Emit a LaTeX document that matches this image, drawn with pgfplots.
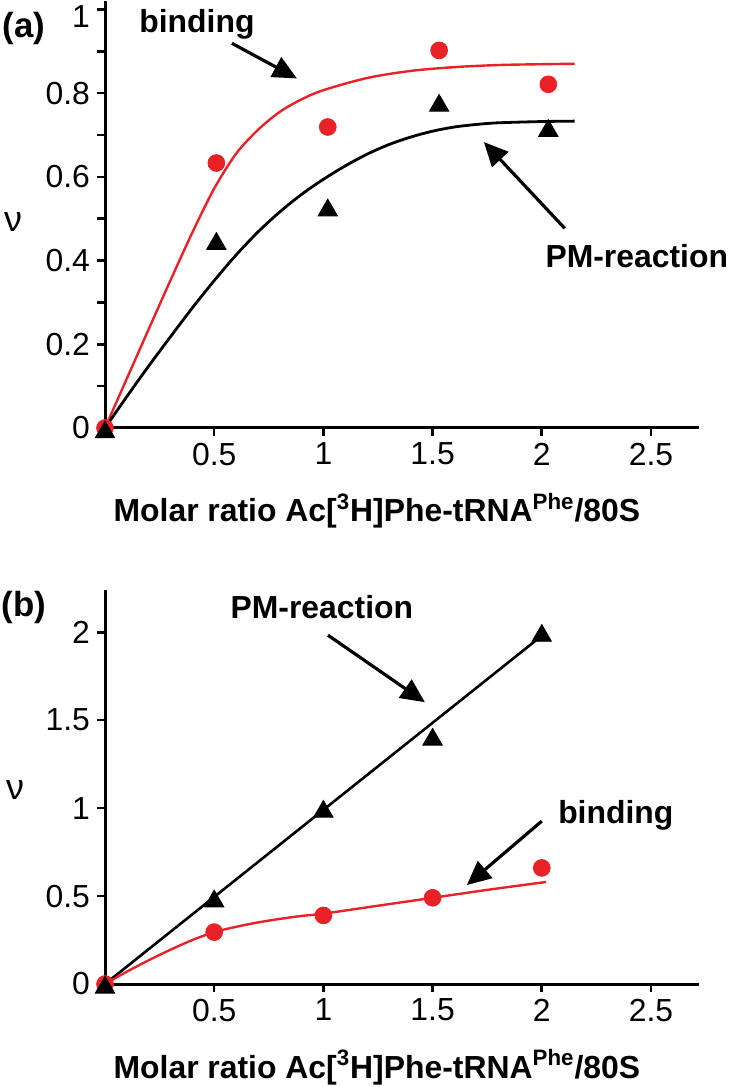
\documentclass[border=0pt]{standalone}
\usepackage{fontspec}
\setmainfont{Liberation Sans}
\usepackage{pgfplots}
\pgfplotsset{compat=1.18}
\usetikzlibrary{arrows.meta}
\definecolor{myred}{RGB}{232,34,39}
\newcommand{\lab}{\fontsize{16}{19}\selectfont}
\tikzset{arr/.style={line width=1.6bp, -{Triangle[length=12bp,width=11bp]}}}
\begin{document}
\begin{tikzpicture}
\useasboundingbox (0,0) rectangle (367bp,543.5bp);
\pgfplotsset{
 myaxis/.style={
  scale only axis, clip=false,
  axis x line=bottom, axis y line=left,
  axis line style={line width=1.5bp,-},
  every tick/.style={line width=1.3bp, black},
  major tick length=4bp, minor tick length=4bp,
  tick align=outside,
  xmin=0, xmax=2.72,
  xtick={0.5,1,1.5,2,2.5},
  /pgf/number format/assume math mode=true,
  tick label style={font=\lab},
  width=297bp,
 },
}
% ---------------- panel (a)
\begin{axis}[myaxis, at={(52.5bp,329.5bp)}, anchor=south west,
  height=213.5bp, ymin=0, ymax=1.02,
  ytick={0,0.2,0.4,0.6,0.8}, minor ytick={0.1,0.3,0.5,0.7,0.9},
  extra y ticks={1}, extra y tick style={yticklabel style={yshift=-3.5bp}}]
\addplot[myred, line width=1.2bp, smooth] coordinates {
 (0,0) (0.1,0.118) (0.2,0.236) (0.3,0.353) (0.4,0.467) (0.5,0.572) (0.6,0.655)
 (0.7,0.712) (0.8,0.755) (0.9,0.785) (1.0,0.807) (1.2,0.836) (1.4,0.853)
 (1.6,0.862) (1.8,0.867) (2.0,0.869) (2.15,0.87)};
\addplot[black, line width=1.4bp, smooth] coordinates {
 (0,0) (0.1,0.075) (0.2,0.148) (0.3,0.218) (0.4,0.287) (0.5,0.352) (0.6,0.413)
 (0.7,0.468) (0.8,0.516) (0.9,0.558) (1.0,0.594) (1.1,0.626) (1.2,0.654)
 (1.3,0.677) (1.4,0.695) (1.5,0.709) (1.6,0.719) (1.7,0.725) (1.8,0.729)
 (2.0,0.732) (2.15,0.733)};
\addplot[only marks, mark=*, mark size=4.2bp, myred, mark options={draw=myred, fill=myred}] coordinates {
 (0,0) (0.51,0.633) (1.02,0.719) (1.53,0.902) (2.03,0.821)};
\addplot[only marks, mark=triangle*, mark size=5.6bp, black] coordinates {
 (0,-0.01) (0.51,0.44) (1.02,0.52) (1.53,0.77) (2.03,0.71)};
\node[font=\fontsize{17.5}{20}\selectfont\bfseries] at (axis cs:-0.371,0.955) {(a)};
\node[font=\fontsize{18}{20}\selectfont] at (axis cs:-0.421,0.492) {ν};
\node[font=\lab\bfseries] at (axis cs:0.421,0.964) {binding};
\draw[arr] (axis cs:0.581,0.919) -- (axis cs:0.879,0.835);
\node[font=\lab\bfseries] at (axis cs:2.435,0.41) {PM-reaction};
\draw[arr] (axis cs:2.105,0.477) -- (axis cs:1.735,0.683);
\node[font=\lab\bfseries] at (axis cs:1.245,-0.198) {Molar ratio Ac[\textsuperscript{3}H]Phe-tRNA\textsuperscript{Phe}/80S};
\end{axis}
% ---------------- panel (b)
\begin{axis}[myaxis, at={(52.5bp,51.5bp)}, anchor=south west,
  height=197bp, ymin=0, ymax=2.24,
  ytick={0,0.5,1,1.5,2}]
\addplot[black, line width=1.3bp] coordinates {(0,0) (2,1.98)};
\addplot[myred, line width=1.2bp, smooth] coordinates {
 (0,0) (0.1,0.07) (0.2,0.135) (0.3,0.195) (0.4,0.25) (0.5,0.295) (0.6,0.325)
 (0.7,0.35) (0.8,0.37) (0.9,0.387) (1,0.40) (1.25,0.445) (1.5,0.49)
 (1.75,0.535) (2.02,0.58)};
\addplot[only marks, mark=*, mark size=4.2bp, myred, mark options={draw=myred, fill=myred}] coordinates {
 (0,0) (0.5,0.295) (1,0.39) (1.5,0.49) (2,0.66)};
\addplot[only marks, mark=triangle*, mark size=5.6bp, black] coordinates {
 (0,-0.02) (0.5,0.47) (1,0.98) (1.5,1.39) (2,1.98)};
\node[font=\fontsize{17.5}{20}\selectfont\bfseries] at (axis cs:-0.371,2.142) {(b)};
\node[font=\fontsize{18}{20}\selectfont] at (axis cs:-0.412,1.10) {ν};
\node[font=\lab\bfseries] at (axis cs:0.993,2.142) {PM-reaction};
\draw[arr] (axis cs:1.021,1.983) -- (axis cs:1.465,1.602);
\node[font=\lab\bfseries] at (axis cs:2.339,0.96) {binding};
\draw[arr] (axis cs:2.0,0.926) -- (axis cs:1.657,0.5625);
\node[font=\lab\bfseries] at (axis cs:1.245,-0.472) {Molar ratio Ac[\textsuperscript{3}H]Phe-tRNA\textsuperscript{Phe}/80S};
\end{axis}
\end{tikzpicture}
\end{document}
